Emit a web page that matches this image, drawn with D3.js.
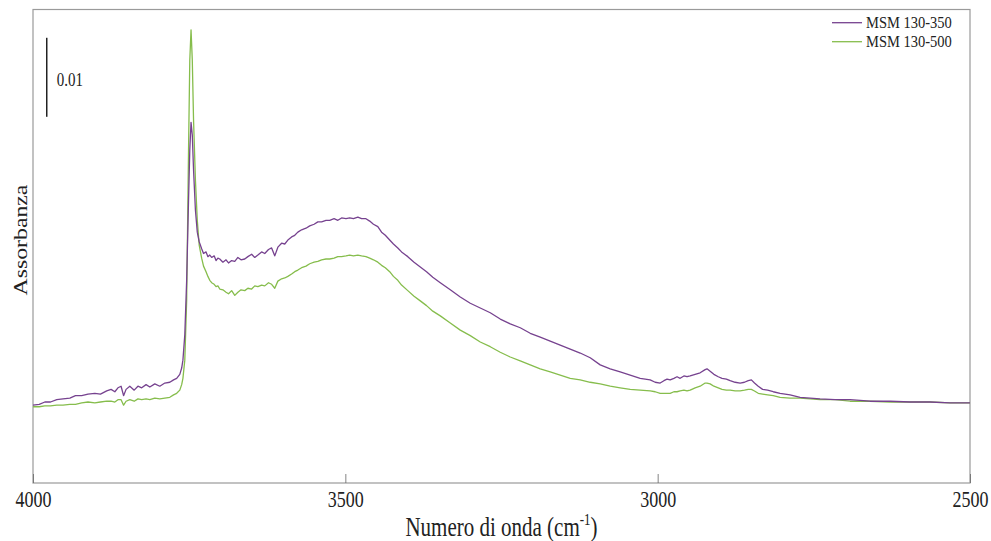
<!DOCTYPE html>
<html>
<head>
<meta charset="utf-8">
<script src="https://cdn.jsdelivr.net/npm/d3@7/dist/d3.min.js"></script>
<style>
  html, body { margin: 0; padding: 0; background: #fff; }
  svg { display: block; }
  text { font-family: "Liberation Serif", "Times New Roman", serif; fill: #222; }
</style>
</head>
<body>
<svg id="chart" width="991" height="541"></svg>
<script>
// ---- DATA ----
const wavenumbers = [
  4000,3990,3981,3972,3962,3952,3941,3932,3922,3912,3901,3892,3882,3875,3869,3864,3859,3855,3851,3845,
  3838,3832,3826,3819,3813,3805,3797,3789,3781,3775,3770,3765,3762,3760,3757,3754,3751,3749,3747,3745,
  3743,3740,3737,3734,3730,3727,3723,3720,3717,3714,3710,3707,3704,3701,3696,3691,3687,3682,3677,3672,
  3667,3661,3656,3650,3645,3640,3634,3629,3623,3618,3613,3608,3602,3597,3592,3586,3581,3576,3570,3563,
  3557,3550,3544,3538,3531,3525,3518,3512,3506,3499,3493,3487,3480,3474,3467,3461,3455,3448,3442,3436,
  3429,3423,3416,3410,3400,3390,3380,3370,3360,3348,3332,3316,3300,3284,3268,3252,3236,3220,3204,3188,
  3172,3156,3140,3124,3108,3092,3076,3060,3044,3028,3012,3004,2996,2990,2985,2980,2974,2969,2964,2958,
  2953,2948,2940,2932,2924,2921,2916,2910,2903,2897,2890,2884,2876,2868,2861,2855,2850,2845,2839,2832,
  2824,2815,2804,2788,2772,2756,2740,2716,2692,2660,2628,2596,2564,2532,2500
];
const msm130_350 = [
  -0.0004,-0.0003,0.0000,0.0000,0.0003,0.0004,0.0005,0.0008,0.0008,0.0010,0.0011,0.0010,0.0014,0.0016,0.0013,0.0018,0.0020,0.0008,0.0016,0.0020,
  0.0015,0.0020,0.0018,0.0022,0.0019,0.0023,0.0020,0.0024,0.0025,0.0028,0.0030,0.0035,0.0043,0.0053,0.0085,0.0154,0.0256,0.0319,0.0354,0.0338,
  0.0294,0.0243,0.0215,0.0203,0.0194,0.0188,0.0190,0.0184,0.0186,0.0183,0.0185,0.0179,0.0182,0.0181,0.0177,0.0180,0.0176,0.0179,0.0178,0.0183,
  0.0180,0.0181,0.0184,0.0187,0.0183,0.0186,0.0190,0.0188,0.0193,0.0195,0.0185,0.0196,0.0201,0.0200,0.0205,0.0209,0.0211,0.0215,0.0218,0.0220,
  0.0223,0.0225,0.0228,0.0228,0.0230,0.0230,0.0232,0.0230,0.0233,0.0232,0.0233,0.0232,0.0234,0.0232,0.0232,0.0229,0.0225,0.0222,0.0215,0.0211,
  0.0205,0.0200,0.0195,0.0190,0.0184,0.0177,0.0171,0.0165,0.0158,0.0151,0.0142,0.0133,0.0125,0.0119,0.0113,0.0105,0.0099,0.0094,0.0087,0.0082,
  0.0077,0.0072,0.0067,0.0062,0.0056,0.0047,0.0042,0.0038,0.0034,0.0030,0.0028,0.0025,0.0024,0.0027,0.0029,0.0028,0.0030,0.0032,0.0030,0.0033,
  0.0032,0.0033,0.0035,0.0037,0.0041,0.0042,0.0039,0.0035,0.0032,0.0030,0.0029,0.0027,0.0025,0.0024,0.0025,0.0027,0.0028,0.0024,0.0020,0.0016,
  0.0015,0.0013,0.0011,0.0009,0.0006,0.0005,0.0004,0.0003,0.0003,0.0001,0.0001,0.0000,0.0000,-0.0001,-0.0001
];
const msm130_500 = [
  -0.0006,-0.0006,-0.0005,-0.0005,-0.0004,-0.0004,-0.0003,-0.0003,-0.0001,0.0000,-0.0001,0.0000,0.0001,0.0001,0.0000,0.0003,0.0003,-0.0004,0.0001,0.0003,
  0.0001,0.0004,0.0003,0.0004,0.0003,0.0005,0.0004,0.0005,0.0006,0.0009,0.0011,0.0015,0.0022,0.0030,0.0053,0.0129,0.0319,0.0433,0.0471,0.0433,
  0.0357,0.0281,0.0230,0.0199,0.0182,0.0172,0.0165,0.0159,0.0154,0.0151,0.0149,0.0146,0.0147,0.0143,0.0142,0.0139,0.0137,0.0141,0.0135,0.0139,
  0.0142,0.0141,0.0144,0.0143,0.0147,0.0146,0.0148,0.0147,0.0151,0.0149,0.0144,0.0153,0.0156,0.0157,0.0159,0.0162,0.0165,0.0167,0.0170,0.0172,
  0.0175,0.0177,0.0178,0.0180,0.0181,0.0181,0.0182,0.0184,0.0184,0.0185,0.0186,0.0185,0.0186,0.0185,0.0184,0.0182,0.0180,0.0177,0.0173,0.0170,
  0.0165,0.0159,0.0154,0.0148,0.0141,0.0134,0.0128,0.0122,0.0115,0.0109,0.0100,0.0091,0.0084,0.0076,0.0070,0.0063,0.0057,0.0052,0.0047,0.0042,
  0.0038,0.0034,0.0030,0.0028,0.0025,0.0023,0.0020,0.0018,0.0016,0.0015,0.0014,0.0013,0.0011,0.0011,0.0011,0.0011,0.0013,0.0013,0.0014,0.0015,
  0.0014,0.0015,0.0018,0.0020,0.0024,0.0024,0.0023,0.0020,0.0018,0.0016,0.0015,0.0015,0.0014,0.0014,0.0015,0.0016,0.0016,0.0014,0.0011,0.0010,
  0.0009,0.0008,0.0006,0.0005,0.0005,0.0004,0.0003,0.0003,0.0001,0.0001,0.0000,0.0000,0.0000,-0.0001,-0.0001
];
const seriesNames = ["MSM 130-350", "MSM 130-500"];
const seriesColors = ["#76428f", "#86bd4c"];
const xTicks = [4000, 3500, 3000, 2500];
const xDomain = [4000, 2500];
const yDomain = [-0.01025, 0.04968];
const scaleBarValue = 0.01;
const scaleBarFrom = 0.0361;
const scaleBarAt = 3978;

// ---- LAYOUT ----
const SERIF = '"Times New Roman", "Liberation Serif", serif';
const svg = d3.select("#chart");
const L = 33, R = 970, T = 9.5, B = 483;
const x = d3.scaleLinear().domain(xDomain).range([L, R]);
const y = d3.scaleLinear().domain(yDomain).range([B, T]);

function stretchedText(g, tx, ty, str, size, sy, anchor) {
  return g.append("text")
    .attr("transform", `translate(${tx},${ty}) scale(1,${sy})`)
    .style("font-family", SERIF)
    .style("font-size", size + "px")
    .attr("text-anchor", anchor || "start")
    .text(str);
}

// frame
svg.append("rect")
  .attr("x", L).attr("y", T).attr("width", R - L).attr("height", B - T)
  .attr("fill", "none").attr("stroke", "#9a9a9a").attr("stroke-width", 1.2);

// x axis (ticks inward)
const xAxis = svg.append("g")
  .attr("transform", `translate(0,${B})`)
  .call(d3.axisBottom(x).tickValues(xTicks).tickSize(-9).tickFormat(d3.format("d")));
xAxis.attr("font-family", null).attr("font-size", null);
xAxis.select(".domain").remove();
xAxis.selectAll(".tick line").attr("stroke", "#666").attr("stroke-width", 0.8);
xAxis.selectAll(".tick text")
  .attr("y", null).attr("dy", null)
  .attr("transform", "translate(0,24) scale(1,1.25)")
  .style("font-size", "18px")
  .style("font-family", SERIF)
  .style("fill", "#222");

// axis titles
const xt = svg.append("text")
  .attr("transform", `translate(${(L + R) / 2},536) scale(1,1.25)`)
  .style("font-family", SERIF)
  .style("font-size", "21px").attr("text-anchor", "middle");
xt.append("tspan").text("Numero di onda (cm");
xt.append("tspan").style("font-size", "13px").attr("dy", -9).text("-1");
xt.append("tspan").attr("dy", 9).text(")");

svg.append("text")
  .attr("transform", `translate(27,240) rotate(-90) scale(1.25,1)`)
  .style("font-family", SERIF)
  .style("font-size", "19px").attr("text-anchor", "middle")
  .text("Assorbanza");

// lines
const line = d3.line()
  .x((d, i) => x(wavenumbers[i]))
  .y(d => y(d));
const allSeries = [msm130_500, msm130_350];
const allColors = [seriesColors[1], seriesColors[0]];
svg.append("g").selectAll("path")
  .data(allSeries)
  .join("path")
  .attr("d", d => line(d))
  .attr("fill", "none")
  .attr("stroke", (d, i) => allColors[i])
  .attr("stroke-width", 1.3)
  .attr("stroke-linejoin", "round");

// scale bar
svg.append("line")
  .attr("x1", x(scaleBarAt)).attr("x2", x(scaleBarAt))
  .attr("y1", y(scaleBarFrom)).attr("y2", y(scaleBarFrom + scaleBarValue))
  .attr("stroke", "#222").attr("stroke-width", 1.5);
stretchedText(svg, x(scaleBarAt) + 10, 86, "0.01", 15, 1.25, "start");

// legend
const leg = svg.append("g");
seriesNames.forEach((name, i) => {
  const cy = 22.7 + i * 19;
  leg.append("line")
    .attr("x1", 832).attr("x2", 862).attr("y1", cy).attr("y2", cy)
    .attr("stroke", seriesColors[i]).attr("stroke-width", 1.3);
  stretchedText(leg, 866, cy + 5, name, 14.5, 1.1, "start");
});
</script>
</body>
</html>
